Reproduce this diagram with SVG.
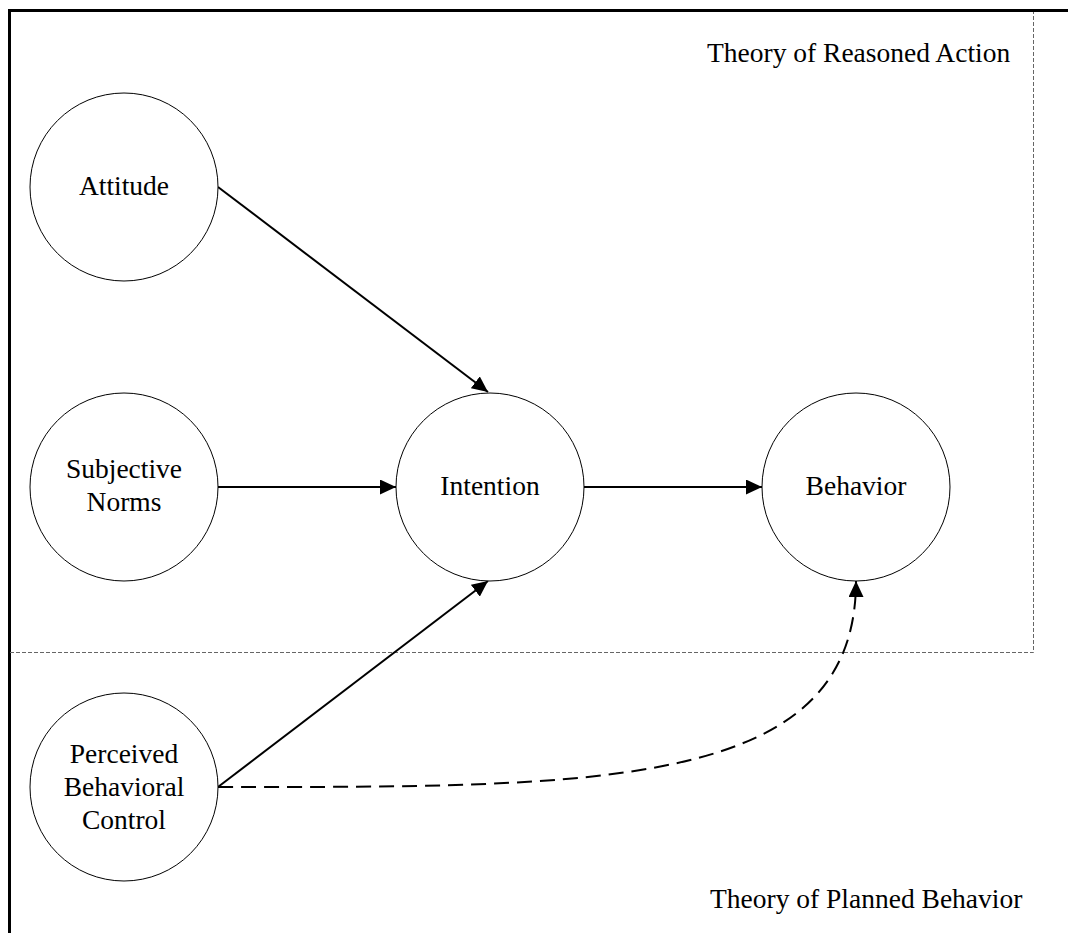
<svg xmlns="http://www.w3.org/2000/svg" width="1068" height="933" viewBox="0 0 1068 933">
<style>
.node circle{fill:#fff;stroke:#000;stroke-width:1}
text{font-family:'Liberation Serif','DejaVu Serif',serif;font-size:27.5px;fill:#000}
.lbl{text-anchor:middle}
.edge{stroke:#000;stroke-width:2;fill:none}
.dash{stroke-dasharray:15 8}
.region{stroke:#666;stroke-width:1;fill:none;stroke-dasharray:4 2}
</style>
<defs>
<marker id="ah" viewBox="0 0 16 15" refX="16" refY="7.5" markerWidth="16" markerHeight="15" markerUnits="userSpaceOnUse" orient="auto">
<path d="M0,0 L16,7.5 L0,15 Z" fill="#000"/>
</marker>
</defs>
<rect width="1068" height="933" fill="#fff"/>
<g id="frame">
<path d="M9.5,940 V10.5 H1075" stroke="#000" stroke-width="3" fill="none"/>
<path class="region" d="M10,652.5 H1033.5 V12"/>
<text x="707" y="62">Theory of Reasoned Action</text>
<text x="710" y="908">Theory of Planned Behavior</text>
</g>
<g id="connectors">
<line class="edge" x1="218" y1="187" x2="488" y2="392" marker-end="url(#ah)"/>
<line class="edge" x1="218" y1="487" x2="396" y2="487" marker-end="url(#ah)"/>
<line class="edge" x1="584" y1="487" x2="762" y2="487" marker-end="url(#ah)"/>
<line class="edge" x1="218" y1="787" x2="488" y2="581" marker-end="url(#ah)"/>
<path class="edge dash" d="M218,787 C600,787 856,790 856,581" marker-end="url(#ah)"/>
</g>
<g id="attitude" class="node">
<circle cx="124" cy="187" r="94"/>
<text class="lbl" x="124" y="195">Attitude</text>
</g>
<g id="subjective-norms" class="node">
<circle cx="124" cy="487" r="94"/>
<text class="lbl" x="124" y="478">Subjective</text>
<text class="lbl" x="124" y="511">Norms</text>
</g>
<g id="intention" class="node">
<circle cx="490" cy="487" r="94"/>
<text class="lbl" x="490" y="495">Intention</text>
</g>
<g id="behavior" class="node">
<circle cx="856" cy="487" r="94"/>
<text class="lbl" x="856" y="495">Behavior</text>
</g>
<g id="pbc" class="node">
<circle cx="124" cy="787" r="94"/>
<text class="lbl" x="124" y="763">Perceived</text>
<text class="lbl" x="124" y="796">Behavioral</text>
<text class="lbl" x="124" y="829">Control</text>
</g>
</svg>
